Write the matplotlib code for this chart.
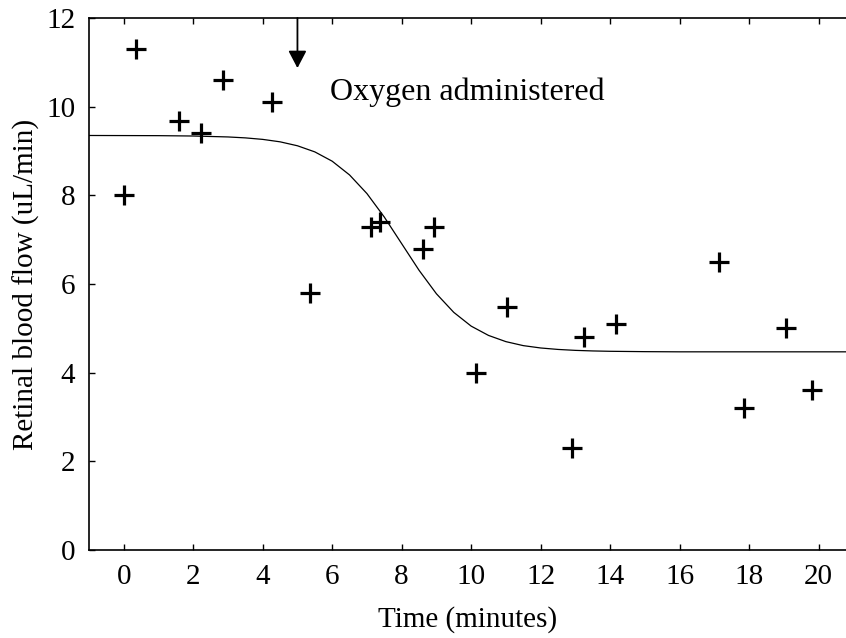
import matplotlib
matplotlib.use("Agg")
import matplotlib.pyplot as plt

# measured flow (uL/min) against time (minutes)
time_pts = [0.0, 0.35, 1.6, 2.22, 2.86, 4.28, 5.36, 7.11, 7.37, 8.62, 8.93,
            10.15, 11.02, 12.89, 13.25, 14.17, 17.12, 17.85, 19.06, 19.82]
flow_pts = [8.0, 11.3, 9.68, 9.4, 10.6, 10.1, 5.8, 7.29, 7.4, 6.8, 7.29,
            4.0, 5.49, 2.29, 4.81, 5.1, 6.5, 3.2, 5.0, 3.61]

# fitted curve
curve_t = [-1, 0, 1, 2, 3, 3.5, 4, 4.5, 5, 5.5, 6, 6.5, 7, 7.5, 8, 8.5, 9,
           9.5, 10, 10.5, 11, 11.5, 12, 12.5, 13, 13.5, 14, 15, 16, 18, 21]
curve_f = [9.35, 9.348, 9.346, 9.338, 9.317, 9.296, 9.262, 9.207, 9.118,
           8.98, 8.77, 8.46, 8.04, 7.51, 6.91, 6.31, 5.78, 5.36, 5.05, 4.84,
           4.70, 4.61, 4.557, 4.524, 4.503, 4.49, 4.482, 4.474, 4.47, 4.47, 4.47]

x_ticks = list(range(0, 21, 2))
y_ticks = list(range(0, 13, 2))

plt.rcParams['font.family'] = ['Liberation Serif', 'DejaVu Serif']

fig = plt.figure(figsize=(8.46, 6.38), dpi=100)
ax = fig.add_axes([89/846, 1 - 550/638, 1 - 89/846, (550 - 18)/638])

ax.plot(curve_t, curve_f, color='black', lw=0.9)
ax.plot(time_pts, flow_pts, '+', color='black', ms=15, mew=2.3)

# arrow marking oxygen
ax.annotate('', xy=(5.0, 10.87), xytext=(5.0, 12.0),
            arrowprops=dict(arrowstyle='-|>,head_width=0.55,head_length=1.05',
                            color='black', lw=1.3, shrinkA=0, shrinkB=0))
ax.text(5.93, 10.15, 'Oxygen administered', fontsize=23, ha='left', va='baseline')

ax.set_xlim(-1, 20.79)
ax.set_ylim(0, 12)
ax.set_xticks(x_ticks)
ax.set_yticks(y_ticks)
ax.tick_params(direction='in', length=4, width=1, labelsize=21, top=True,
               pad=10)
ax.spines['right'].set_visible(False)
for s in ['left', 'top', 'bottom']:
    ax.spines[s].set_linewidth(1.2)

ax.set_xlabel('Time (minutes)', fontsize=21, labelpad=12)
ax.set_ylabel('Retinal blood flow (uL/min)', fontsize=21, labelpad=4)

fig.savefig('out.png', dpi=100)
